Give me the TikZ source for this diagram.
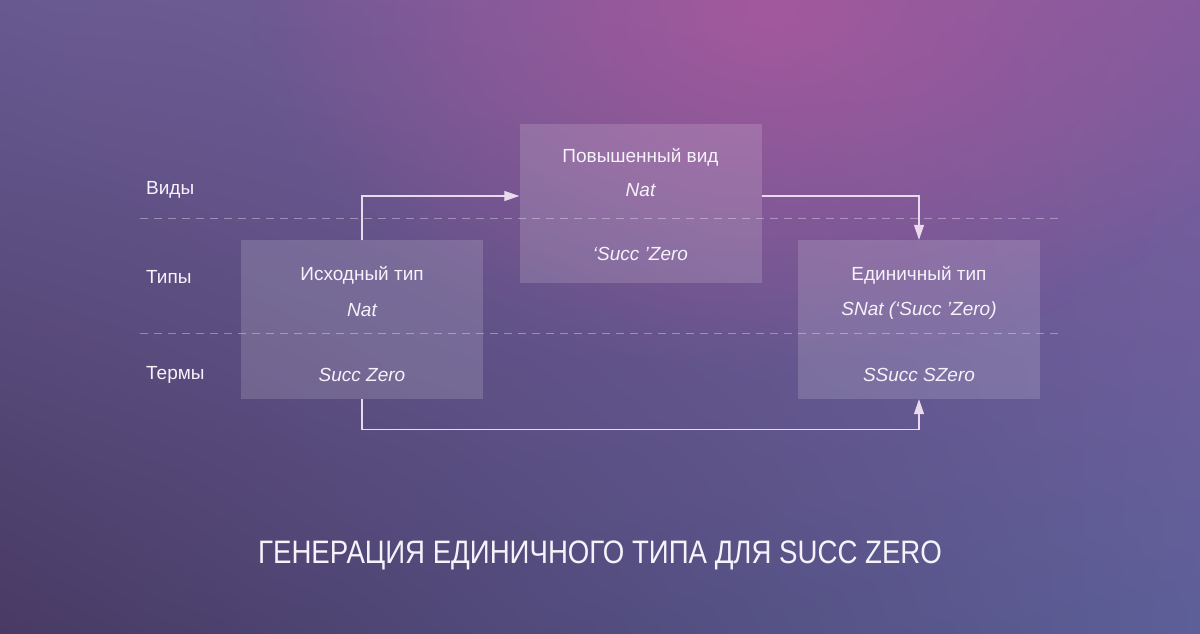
\documentclass[tikz,border=0pt]{standalone}
\usepackage{fontspec}
\setmainfont{Liberation Sans}
\newfontfamily\titlefont[FakeStretch=0.85]{Liberation Sans}
\usetikzlibrary{arrows.meta,calc,positioning,fadings,shadings}
\definecolor{bgtl}{RGB}{104,90,145}
\definecolor{bgtr}{RGB}{128,92,158}
\definecolor{bgbl}{RGB}{72,58,100}
\definecolor{bgbr}{RGB}{92,95,152}
\definecolor{glowpink}{RGB}{178,88,158}
\definecolor{softwhite}{RGB}{246,242,250}
\tikzfading[name=glowfade,inner color=transparent!0,outer color=transparent!100]
\tikzset{
  layerbox/.style={rectangle,draw=none,fill=white,fill opacity=0.15,
    minimum width=242pt,minimum height=159pt,inner sep=0pt},
  boxtext/.style={text=softwhite,font=\fontsize{19}{22}\selectfont,inner sep=0pt},
  termtext/.style={boxtext,font=\fontsize{19}{22}\selectfont\itshape},
  levellabel/.style={boxtext,anchor=west},
  levelline/.style={white,opacity=0.35,line width=1pt,dash pattern=on 8pt off 6pt},
  flow/.style={-{Triangle[length=15pt,width=10pt]},line width=1.2pt,softwhite!90!violet}
}

\begin{document}
\begin{tikzpicture}[x=1pt,y=-1pt]
  \useasboundingbox (0,0) rectangle (1200,634);
  \shade[upper left=bgtl,upper right=bgtr,lower left=bgbl,lower right=bgbr]
    (0,0) rectangle (1200,634);
  \fill[glowpink,path fading=glowfade,fill opacity=0.75]
    (770,10) ellipse [x radius=520,y radius=360];

  % level separators
  \draw[levelline] (140,218) -- (1058,218);
  \draw[levelline] (140,333) -- (1058,333);

  \node[levellabel] (kinds) at (146,190) {Виды};
  \node[levellabel] (types) at (146,277) {Типы};
  \node[levellabel] (terms) at (146,375) {Термы};

  \node[layerbox] (orig) at (362,319.5) {};
  \node[layerbox] (prom) at (640.5,203.5) {};
  \node[layerbox] (sing) at (919,319.5) {};

  \node[boxtext] (origname) at (362,275) {Исходный тип};
  \node[termtext] (origtype) at (362,310) {Nat};
  \node[termtext] (origterm) at (362,375) {Succ Zero};

  \node[boxtext] (promname) at (640.5,157) {Повышенный вид};
  \node[termtext] (promkind) at (640.5,190) {Nat};
  \node[termtext] (promtype) at (640.5,254) {‘Succ ’Zero};

  \node[boxtext] (singname) at (919,275) {Единичный тип};
  \node[termtext] (singtype) at (919,311) {SNat (‘Succ ’Zero)};
  \node[termtext] (singterm) at (919,375) {SSucc SZero};

  \coordinate (promin) at ($(prom.west)+(0,-7.5)$);
  \coordinate (promout) at ($(prom.east)+(0,-7.5)$);
  \draw[flow] (orig.north) |- (promin);
  \draw[flow] (promout) -| (sing.north);
  \draw[flow] (orig.south) -- ++(0,30) -| (sing.south);

  \node[text=softwhite,font=\titlefont\fontsize{32.5}{38}\selectfont] (title) at (600,555)
    {ГЕНЕРАЦИЯ ЕДИНИЧНОГО ТИПА ДЛЯ SUCC ZERO};
\end{tikzpicture}
\end{document}
